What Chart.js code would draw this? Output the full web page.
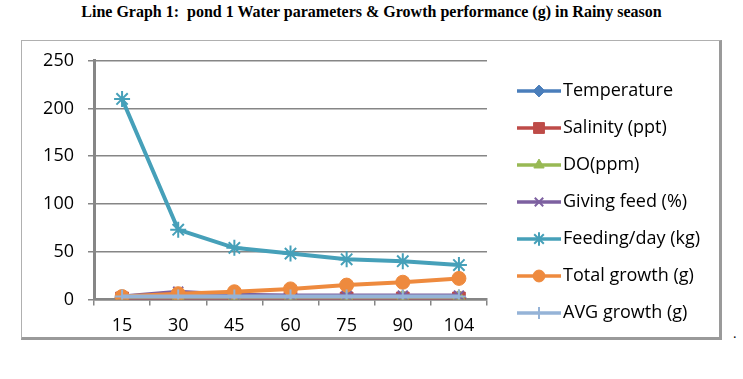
<!DOCTYPE html>
<html>
<head>
<meta charset="utf-8">
<script src="https://cdn.jsdelivr.net/npm/chart.js@4/dist/chart.umd.min.js"></script>
<style>
  html, body { margin: 0; padding: 0; background: #fff; }
  body { width: 743px; height: 379px; position: relative; overflow: hidden; }
  #title { position: absolute; left: 0; top: 3px; width: 743px; text-align: center;
           font: bold 16px "Liberation Serif", "Times New Roman", serif; color: #000; white-space: pre; }
  #box { position: absolute; left: 21px; top: 40px; width: 701px; height: 300px; box-sizing: border-box;
         border-top: 1px solid #b0b0b0; border-left: 1px solid #b0b0b0;
         border-right: 3px solid #9a9a9a; border-bottom: 3px solid #9a9a9a; background: #fff; }
  #c { position: absolute; left: 22px; top: 36px; }
  #dot { position: absolute; left: 733px; top: 326px; font: 14px "Liberation Serif", serif; }
</style>
</head>
<body>
<div id="title">Line Graph 1:  pond 1 Water parameters &amp; Growth performance (g) in Rainy season</div>
<div id="box"></div>
<canvas id="c" width="698" height="311"></canvas>
<div id="dot">.</div>
<script>
const days = ['15', '30', '45', '60', '75', '90', '104'];
const temperature = [2, 2, 2, 2, 2, 2, 2];
const salinity = [1, 1, 1, 1, 1, 1, 1];
const dissolvedOxygen = [3, 3, 3, 3, 3, 3, 3];
const givingFeed = [3, 8, 5, 4, 4, 4, 4];
const feedingPerDay = [210, 73, 54, 48, 42, 40, 36];
const totalGrowth = [3, 6, 8, 11, 15, 18, 22];
const avgGrowth = [3, 3, 3, 3, 3, 3, 3];
const yTicks = [0, 50, 100, 150, 200, 250];

const FONT = '"Open Sans", sans-serif';
const series = [
  { label: 'Temperature', data: temperature, color: '#4A7EBB', style: 'rectRot', r: 7, bw: 1 },
  { label: 'Salinity (ppt)', data: salinity, color: '#BE4B48', style: 'rect', r: 9, bw: 1 },
  { label: 'DO(ppm)', data: dissolvedOxygen, color: '#98B954', style: 'triangle', r: 7, bw: 1 },
  { label: 'Giving feed (%)', data: givingFeed, color: '#7D60A0', style: 'crossRot', r: 7, bw: 2 },
  { label: 'Feeding/day (kg)', data: feedingPerDay, color: '#46A0B9', style: 'star', r: 8, bw: 2 },
  { label: 'Total growth (g)', data: totalGrowth, color: '#EE8A3E', style: 'circle', r: 7, bw: 1 },
  { label: 'AVG growth (g)', data: avgGrowth, color: '#95B3D7', style: 'cross', r: 7, bw: 2 }
];

const datasets = series.map((s, i) => ({
  label: s.label,
  data: s.data,
  borderColor: s.color,
  backgroundColor: s.color,
  borderWidth: 4,
  pointStyle: s.style,
  pointRadius: s.r,
  pointBorderWidth: s.bw,
  pointBackgroundColor: s.color,
  pointBorderColor: s.color,
  tension: 0,
  order: series.length - i
}));

// Excel-style legend: line segment with marker, followed by the label
const lineLegend = {
  id: 'lineLegend',
  afterDraw(chart, args, opts) {
    const ctx = chart.ctx;
    const x0 = chart.chartArea.right + opts.offsetX;
    ctx.save();
    chart.data.datasets.forEach((ds, i) => {
      const y = opts.top + i * opts.step;
      ctx.strokeStyle = ds.borderColor;
      ctx.fillStyle = ds.borderColor;
      ctx.lineWidth = opts.lineWidth;
      ctx.beginPath();
      ctx.moveTo(x0, y);
      ctx.lineTo(x0 + opts.lineLength, y);
      ctx.stroke();
      ctx.lineWidth = ds.pointBorderWidth;
      Chart.helpers.drawPoint(ctx, { pointStyle: ds.pointStyle, rotation: 0, radius: ds.pointRadius * 0.85, borderWidth: ds.pointBorderWidth }, x0 + opts.lineLength / 2, y);
      ctx.fillStyle = '#000';
      ctx.font = opts.font;
      ctx.textBaseline = 'middle';
      ctx.textAlign = 'left';
      ctx.fillText(ds.label, x0 + opts.lineLength + opts.textGap, y);
    });
    ctx.restore();
  }
};

new Chart(document.getElementById('c'), {
  type: 'line',
  data: { labels: days, datasets },
  plugins: [lineLegend],
  options: {
    responsive: false,
    animation: false,
    devicePixelRatio: 1,
    layout: { padding: { top: 16, right: 233, bottom: 0, left: 0 } },
    plugins: {
      title: { display: false },
      tooltip: { enabled: false },
      legend: { display: false },
      lineLegend: { offsetX: 30, top: 55, step: 37, lineLength: 44, lineWidth: 3.5, textGap: 2, font: '18px "Open Sans", sans-serif' }
    },
    scales: {
      x: {
        type: 'category',
        offset: true,
        grid: { offset: true, drawOnChartArea: false, drawTicks: true, tickLength: 6, color: '#868686', lineWidth: 1.5 },
        border: { display: true, color: '#868686', width: 2.5 },
        ticks: { font: { family: FONT, size: 18 }, color: '#000', padding: 10 }
      },
      y: {
        min: 0, max: 250,
        afterBuildTicks: (scale) => { scale.ticks = yTicks.map(v => ({ value: v })); },
        afterFit: (scale) => { scale.width = 72; },
        grid: { color: '#868686', lineWidth: 1.5, drawTicks: true, tickLength: 6 },
        border: { display: true, color: '#868686', width: 3 },
        ticks: { font: { family: FONT, size: 18 }, color: '#000', padding: 14 }
      }
    }
  }
});
</script>
</body>
</html>
